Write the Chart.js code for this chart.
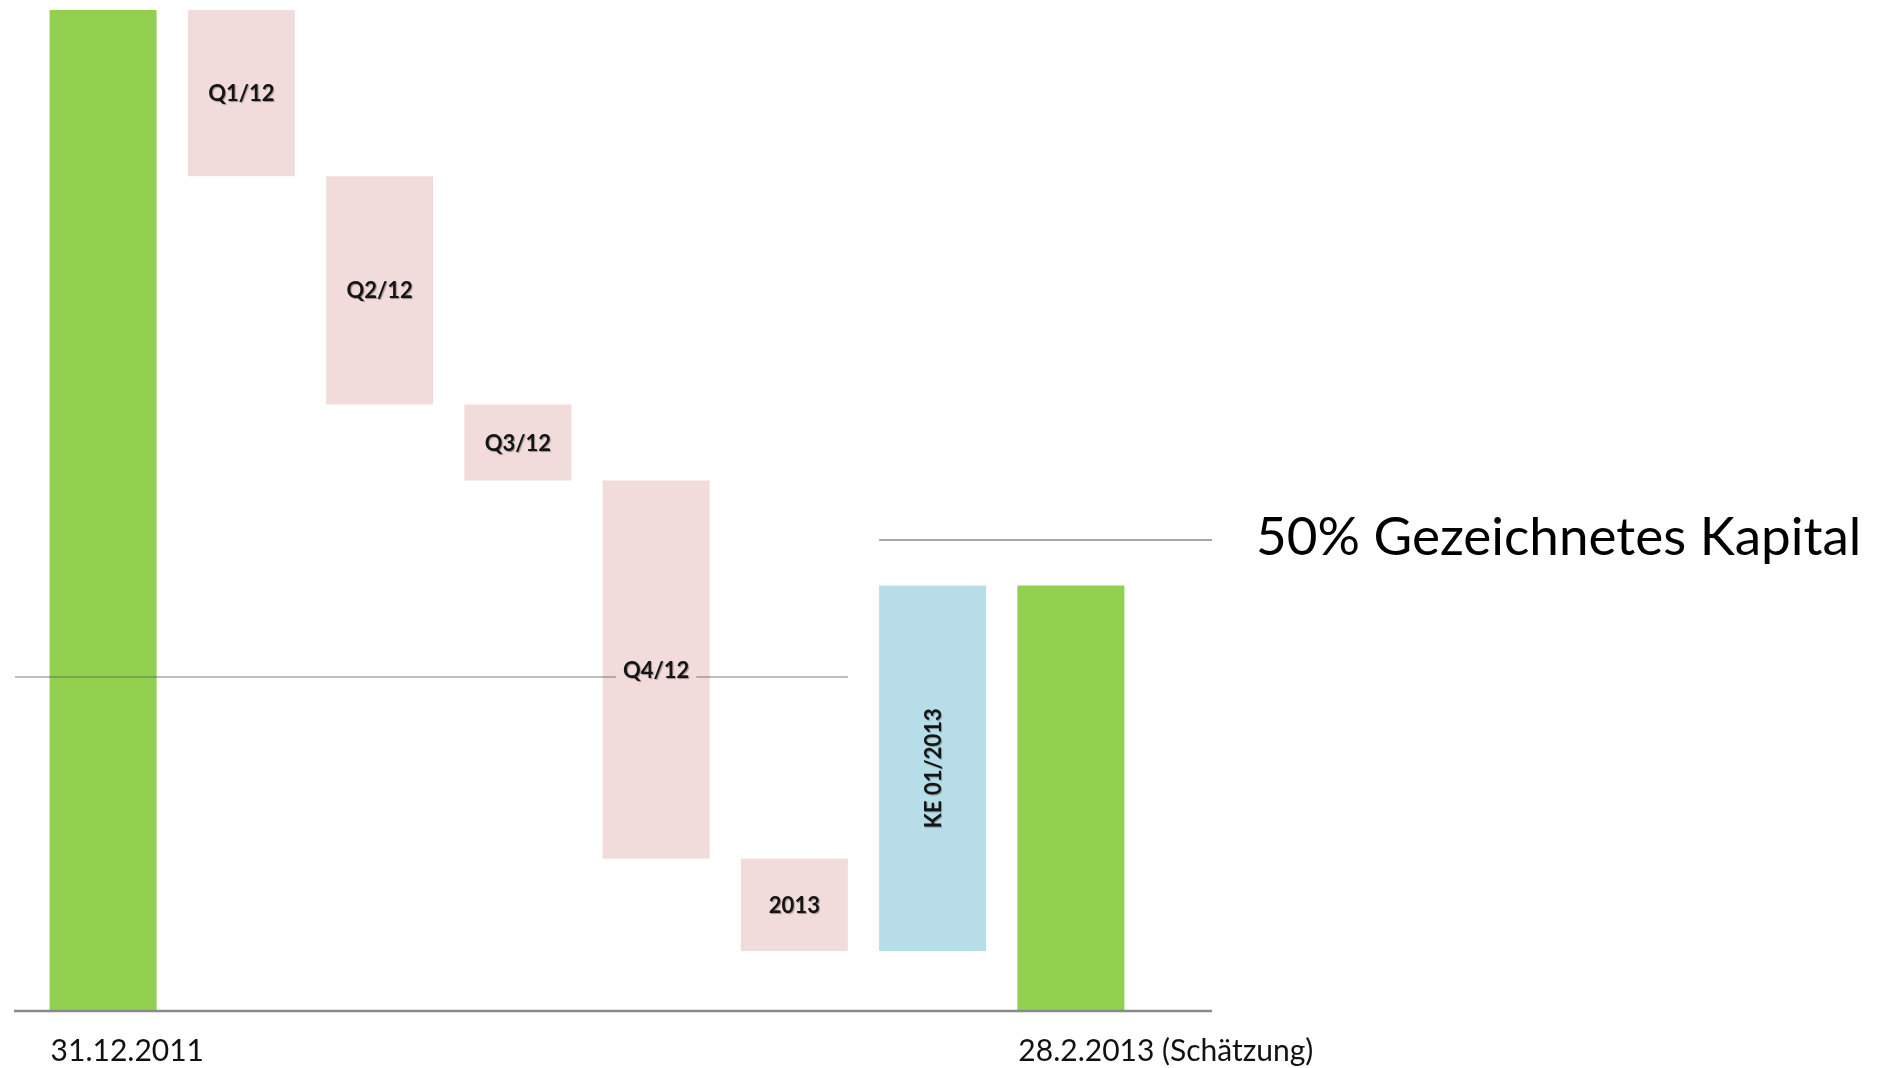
<!DOCTYPE html>
<html lang="de">
<head>
<meta charset="utf-8">
<title>Eigenkapital Entwicklung</title>
<script src="https://cdn.jsdelivr.net/npm/chart.js@4.4.1/dist/chart.umd.min.js"></script>
<style>
  html, body { margin: 0; padding: 0; background: #fff; }
  #wrap { width: 1878px; height: 1068px; }
</style>
</head>
<body>
<div id="wrap"><canvas id="waterfallChart" width="1878" height="1068"></canvas></div>
<script>
// ==================== Daten ====================
const axisLabels = ['31.12.2011', '', '', '', '', '', '', '28.2.2013 (Schätzung)'];
const barTexts = ['', 'Q1/12', 'Q2/12', 'Q3/12', 'Q4/12', '2013', 'KE 01/2013', ''];
// Unter- und Obergrenze jedes Balkens (Wasserfall)
const barLow = [0, 83.4, 60.6, 53.0, 15.2, 6.0, 6.0, 0];
const barHigh = [100, 100, 83.4, 60.6, 53.0, 15.2, 42.5, 42.5];
// Referenzlinien
const lowerLineValue = 33.4;
const halfCapitalValue = 47.1;
const halfCapitalText = '50% Gezeichnetes Kapital';

const GREEN = '#92d050';
const PINK = '#f2dcdb';
const BLUE = '#b7dee8';
const barColors = [GREEN, PINK, PINK, PINK, PINK, PINK, BLUE, GREEN];

// ==================== Plugin: Linien + Texte ====================
const waterfallDecor = {
    id: 'waterfallDecor',
    afterDatasetsDraw(chart) {
        const { ctx, chartArea, scales } = chart;
        const bars = chart.getDatasetMeta(0).data;
        const left = (i) => bars[i].x - bars[i].width / 2;
        const right = (i) => bars[i].x + bars[i].width / 2;

        ctx.save();
        // untere Linie (bis zum Balken 2013)
        let y = Math.round(scales.y.getPixelForValue(lowerLineValue));
        ctx.strokeStyle = 'rgba(90, 90, 90, 0.4)';
        ctx.lineWidth = 2;
        ctx.beginPath();
        ctx.moveTo(chartArea.left - 19, y);
        ctx.lineTo(right(5), y);
        ctx.stroke();

        // 50% Linie
        y = Math.round(scales.y.getPixelForValue(halfCapitalValue));
        const lineEnd = chartArea.right + 72;
        ctx.strokeStyle = 'rgba(80, 80, 80, 0.5)';
        ctx.beginPath();
        ctx.moveTo(left(6), y);
        ctx.lineTo(lineEnd, y);
        ctx.stroke();

        ctx.fillStyle = '#000';
        ctx.font = '53px Lato';
        ctx.textAlign = 'left';
        ctx.textBaseline = 'alphabetic';
        ctx.fillText(halfCapitalText, lineEnd + 44, y + 15);

        // Grundlinie
        const base = Math.round(scales.y.getPixelForValue(0));
        ctx.strokeStyle = '#898989';
        ctx.lineWidth = 2.5;
        ctx.beginPath();
        ctx.moveTo(chartArea.left - 20, base);
        ctx.lineTo(lineEnd, base);
        ctx.stroke();

        // Achsenbeschriftung
        ctx.fillStyle = '#111';
        ctx.font = '30px Lato';
        axisLabels.forEach((t, i) => {
            if (t) ctx.fillText(t, left(i) + 1, base + 50);
        });

        // Beschriftung in den Balken
        ctx.font = 'bold 22px Lato';
        ctx.textAlign = 'center';
        ctx.textBaseline = 'middle';
        barTexts.forEach((t, i) => {
            if (!t) return;
            const bar = bars[i];
            const cy = (bar.y + bar.base) / 2;
            const w = ctx.measureText(t).width;
            ctx.save();
            ctx.translate(bar.x, cy);
            if (i === 6) ctx.rotate(-Math.PI / 2);
            ctx.fillStyle = barColors[i];
            ctx.fillRect(-w / 2 - 7, -9, w + 14, 18);
            ctx.shadowColor = 'rgba(0, 0, 0, 0.35)';
            ctx.shadowOffsetX = 1;
            ctx.shadowOffsetY = 1;
            ctx.shadowBlur = 1;
            ctx.fillStyle = '#141414';
            ctx.fillText(t, 0, 1);
            ctx.restore();
        });
        ctx.restore();
    }
};

// ==================== Chart ====================
new Chart(document.getElementById('waterfallChart'), {
    type: 'bar',
    data: {
        labels: axisLabels,
        datasets: [{
            data: barLow.map((lo, i) => [lo, barHigh[i]]),
            backgroundColor: barColors,
            borderWidth: 0,
            categoryPercentage: 1,
            barPercentage: 0.774
        }]
    },
    options: {
        responsive: false,
        animation: false,
        devicePixelRatio: 1,
        layout: {
            padding: { left: 34, right: 738, top: 10, bottom: 57 }
        },
        plugins: {
            legend: { display: false },
            tooltip: { enabled: false }
        },
        scales: {
            x: { display: false },
            y: { display: false, min: 0, max: 100 }
        }
    },
    plugins: [waterfallDecor]
});
</script>
</body>
</html>
